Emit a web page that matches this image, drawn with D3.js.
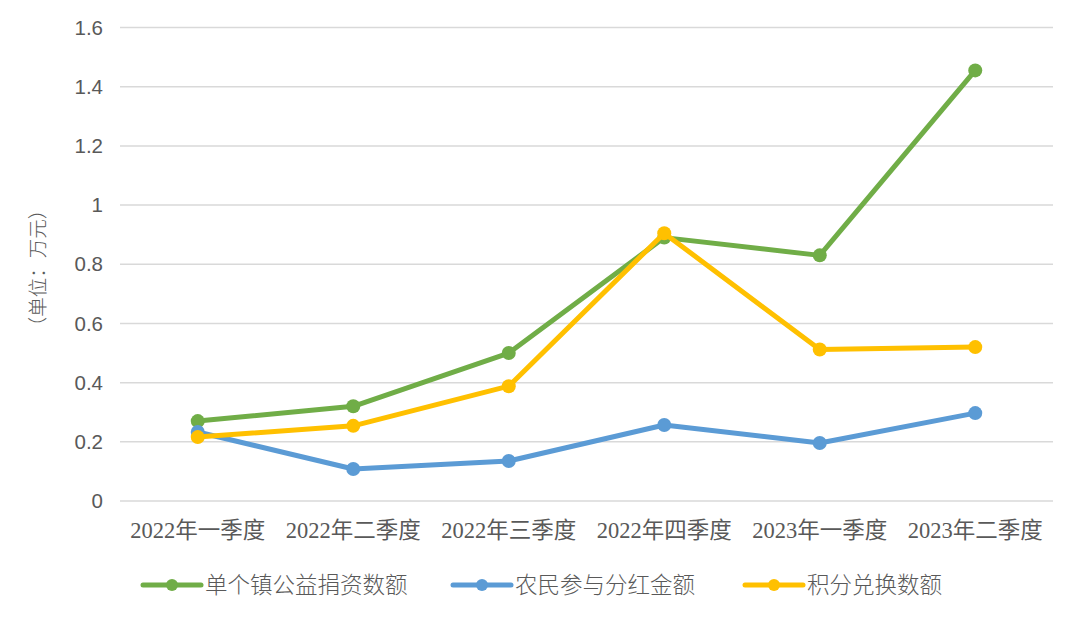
<!DOCTYPE html>
<html><head><meta charset="utf-8">
<script src="https://cdn.jsdelivr.net/npm/d3@7"></script>
<style>body{margin:0;background:#fff;} svg{display:block;}</style>
</head><body>
<script>
const categories = ["2022年一季度","2022年二季度","2022年三季度","2022年四季度","2023年一季度","2023年二季度"];
const seriesNames = ["单个镇公益捐资数额","农民参与分红金额","积分兑换数额"];
const donation = [0.27, 0.32, 0.50, 0.89, 0.83, 1.455];
const dividend = [0.233, 0.108, 0.135, 0.257, 0.196, 0.297];
const exchange = [0.216, 0.254, 0.388, 0.905, 0.512, 0.52];
const yTicks = [0, 0.2, 0.4, 0.6, 0.8, 1, 1.2, 1.4, 1.6];
const colors = ["#70AD47", "#5B9BD5", "#FFC000"];

const W = 1080, H = 618;
const svg = d3.select("body").append("svg").attr("width", W).attr("height", H);
const x = d3.scaleBand().domain(categories).range([120, 1053]);
const y = d3.scaleLinear().domain([0, 1.6]).range([501, 27.5]);

// gridlines
svg.append("g").selectAll("line").data(yTicks).join("line")
  .attr("x1", 120).attr("x2", 1053)
  .attr("y1", d => y(d)).attr("y2", d => y(d))
  .attr("stroke", "#d9d9d9").attr("stroke-width", 1.5);

// y tick labels
svg.append("g").selectAll("text").data(yTicks).join("text")
  .attr("x", 103).attr("y", d => y(d)).attr("dy", "0.35em")
  .attr("text-anchor", "end")
  .attr("font-family", "Liberation Sans, Arial, sans-serif")
  .attr("font-size", 20.5).attr("fill", "#595959")
  .text(d => d3.format("~g")(d));

// y axis label
svg.append("text")
  .attr("transform", "translate(38,268) rotate(-90)")
  .attr("text-anchor", "middle").attr("dy", "0.35em")
  .attr("font-family", "Noto Sans CJK SC, sans-serif")
  .attr("font-weight", 300)
  .attr("font-size", 19.5).attr("fill", "#595959")
  .text("（单位：万元）");

// x labels
svg.append("g").selectAll("text").data(categories).join("text")
  .attr("x", d => x(d) + x.bandwidth() / 2).attr("y", 530).attr("dy", "0.35em")
  .attr("text-anchor", "middle")
  .attr("font-family", "Liberation Serif, Noto Sans CJK SC, serif")
  .attr("font-size", 22.5).attr("fill", "#595959")
  .text(d => d);

const data = [donation, dividend, exchange];
const line = d3.line().x((d, i) => x(categories[i]) + x.bandwidth() / 2).y(d => y(d));
data.forEach((vals, si) => {
  const g = svg.append("g");
  g.append("path").datum(vals).attr("d", line)
    .attr("fill", "none").attr("stroke", colors[si]).attr("stroke-width", 5)
    .attr("stroke-linejoin", "round").attr("stroke-linecap", "round");
  g.selectAll("circle").data(vals).join("circle")
    .attr("cx", (d, i) => x(categories[i]) + x.bandwidth() / 2)
    .attr("cy", d => y(d)).attr("r", 7).attr("fill", colors[si]);
});

// legend
const legendX = [143, 453, 745];
const lg = svg.append("g");
seriesNames.forEach((name, i) => {
  const lx = legendX[i];
  lg.append("line").attr("x1", lx).attr("x2", lx + 58).attr("y1", 585).attr("y2", 585)
    .attr("stroke", colors[i]).attr("stroke-width", 5).attr("stroke-linecap", "round");
  lg.append("circle").attr("cx", lx + 29).attr("cy", 585).attr("r", 6).attr("fill", colors[i]);
  lg.append("text").attr("x", lx + 62).attr("y", 585).attr("dy", "0.35em")
    .attr("font-family", "Noto Sans CJK SC, sans-serif")
    .attr("font-weight", 300)
    .attr("font-size", 22.5).attr("fill", "#595959").text(name);
});
</script>
</body></html>
